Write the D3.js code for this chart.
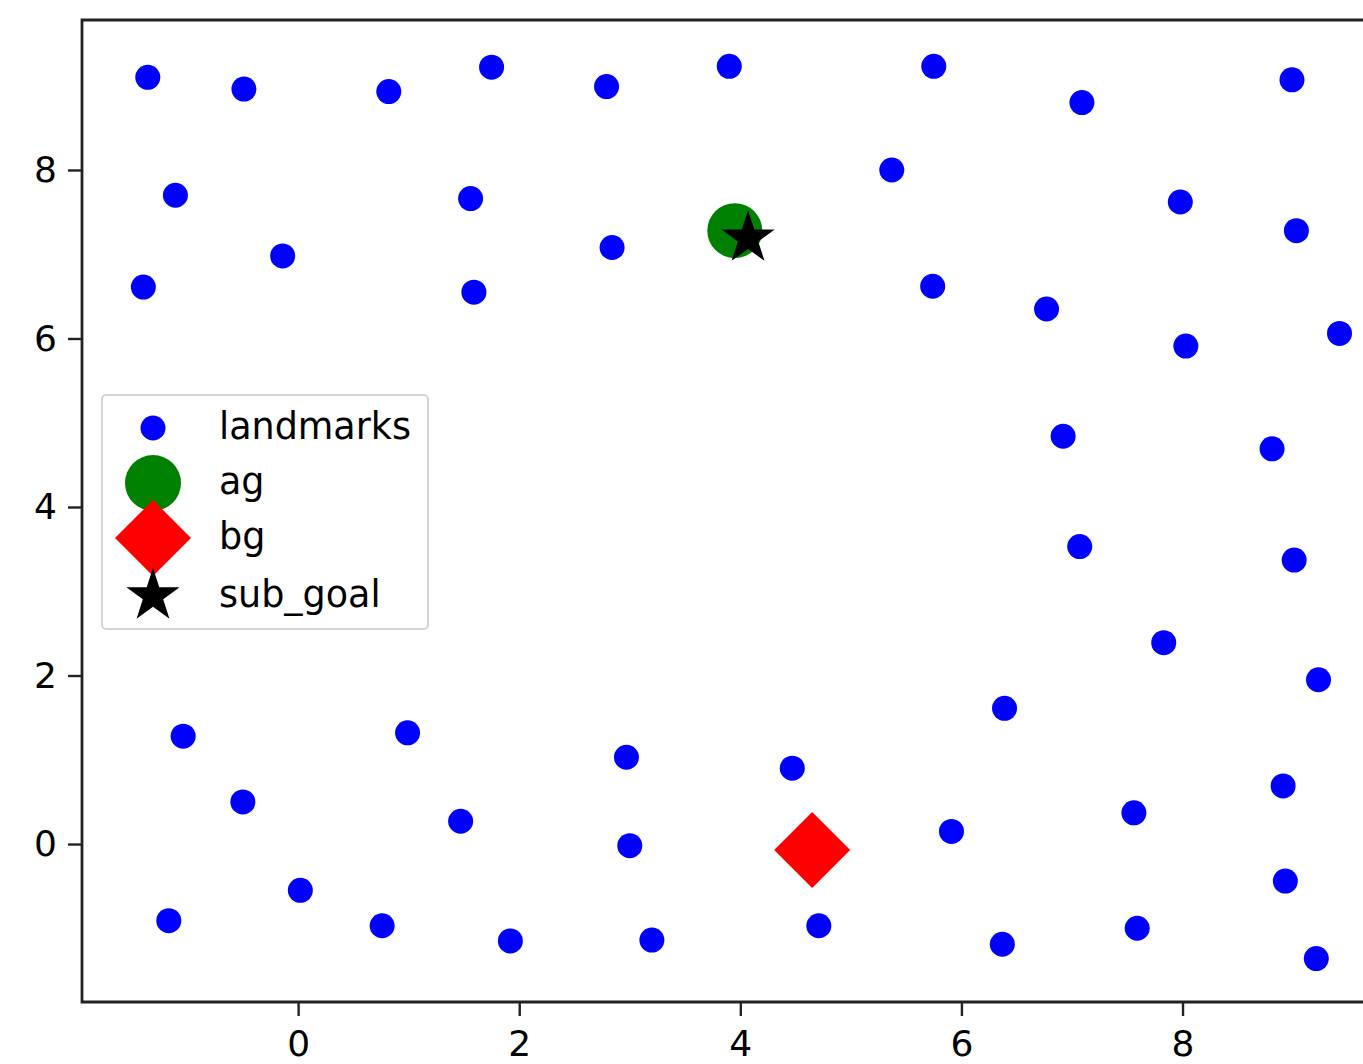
<!DOCTYPE html>
<html>
<head>
<meta charset="utf-8">
<script src="https://cdn.jsdelivr.net/npm/d3@7"></script>
<style>
  html, body { margin: 0; padding: 0; background: #fff; }
  svg { display: block; }
  text { font-family: "DejaVu Sans", sans-serif; fill: #000; }
</style>
</head>
<body>
<svg id="chart" width="1363" height="1064"></svg>
<script>
// Landmark positions (x, y)
const landmarkX = [
  -1.36, -0.49, 0.82, 1.75, 2.79, 3.90, 5.75, 7.09, 8.99,
  -1.11, 1.56, 5.37, 7.98, 9.03,
  -0.14, 2.84, -1.40, 1.59, 5.74, 6.77, 8.03, 9.42,
  6.92, 8.81, 7.07, 9.01, 7.83, 9.23, 6.39,
  -1.04, 0.99, 2.97, 4.47, -0.50, 1.47, 5.91, 7.56, 8.91,
  3.00, 0.02, 8.93, -1.17, 0.76, 1.92, 3.20, 4.71, 6.37, 7.59, 9.21
];
const landmarkY = [
  9.10, 8.96, 8.93, 9.22, 8.99, 9.23, 9.23, 8.80, 9.07,
  7.70, 7.66, 8.00, 7.62, 7.28,
  6.98, 7.08, 6.61, 6.55, 6.62, 6.35, 5.91, 6.06,
  4.84, 4.69, 3.53, 3.37, 2.39, 1.95, 1.61,
  1.28, 1.32, 1.03, 0.90, 0.50, 0.27, 0.15, 0.37, 0.69,
  -0.02, -0.55, -0.44, -0.91, -0.97, -1.15, -1.14, -0.97, -1.19, -1.00, -1.36
];
// Agent goal, other goal and intermediate sub-goal
const agGoal = [3.95, 7.28];
const bgGoal = [4.65, -0.07];
const subGoal = [4.07, 7.19];

const xTicks = [0, 2, 4, 6, 8];
const yTicks = [0, 2, 4, 6, 8];
const legendLabels = ["landmarks", "ag", "bg", "sub_goal"];

const svg = d3.select("#chart");
const plotLeft = 82, plotTop = 20, plotBottom = 1002;

const x = d3.scaleLinear().domain([-1.955, 9.95]).range([plotLeft, plotLeft + 11.905 * 110.55]);
const y = d3.scaleLinear().domain([-1.875, 9.78]).range([plotBottom, plotTop]);

const plotW = 1363 - plotLeft + 40;

// clip region for the plotting area
svg.append("clipPath").attr("id", "plotclip")
  .append("rect").attr("x", plotLeft).attr("y", plotTop).attr("width", plotW).attr("height", plotBottom - plotTop);

const plot = svg.append("g").attr("clip-path", "url(#plotclip)");

// star path centred at 0,0 with outer radius R (pentagram proportions)
function starPath(R) {
  const r = R * 0.381966;
  const pts = [];
  for (let i = 0; i < 10; i++) {
    const rad = i % 2 === 0 ? R : r;
    const a = -Math.PI / 2 + i * Math.PI / 5;
    pts.push([rad * Math.cos(a), rad * Math.sin(a)]);
  }
  return "M" + pts.map(p => p[0].toFixed(2) + "," + p[1].toFixed(2)).join("L") + "Z";
}
function diamondPath(h) {
  return `M0,${-h}L${h},0L0,${h}L${-h},0Z`;
}

const DOT_R = 12.5, AG_R = 27.5, BG_H = 38, STAR_R = 28;

plot.selectAll("circle.landmark")
  .data(d3.range(landmarkX.length))
  .join("circle")
  .attr("class", "landmark")
  .attr("cx", i => x(landmarkX[i]))
  .attr("cy", i => y(landmarkY[i]))
  .attr("r", DOT_R)
  .attr("fill", "#0000ff");

plot.append("circle")
  .attr("cx", x(agGoal[0])).attr("cy", y(agGoal[1]))
  .attr("r", AG_R).attr("fill", "#008000");

plot.append("path")
  .attr("d", diamondPath(BG_H))
  .attr("transform", `translate(${x(bgGoal[0])},${y(bgGoal[1])})`)
  .attr("fill", "#ff0000");

plot.append("path")
  .attr("d", starPath(STAR_R))
  .attr("transform", `translate(${x(subGoal[0])},${y(subGoal[1])})`)
  .attr("fill", "#000");

// axes
const xAxis = d3.axisBottom(x).tickValues(xTicks).tickSize(14).tickPadding(14).tickFormat(d3.format("d"));
const yAxis = d3.axisLeft(y).tickValues(yTicks).tickSize(14).tickPadding(11).tickFormat(d3.format("d"));

const gx = svg.append("g").attr("transform", `translate(0,${plotBottom})`).call(xAxis);
const gy = svg.append("g").attr("transform", `translate(${plotLeft},0)`).call(yAxis);
[gx, gy].forEach(g => {
  g.select(".domain").remove();
  g.selectAll(".tick line").attr("stroke", "#222").attr("stroke-width", 2.4);
  g.selectAll(".tick text").style("font-size", "36px").style("font-family", "DejaVu Sans, sans-serif").attr("fill", "#000");
});

// spines (left, top, bottom; the right one lies beyond the canvas)
svg.append("path")
  .attr("d", `M${plotLeft + plotW},${plotTop}H${plotLeft}V${plotBottom}H${plotLeft + plotW}`)
  .attr("fill", "none").attr("stroke", "#222").attr("stroke-width", 2.8);

// legend
const lg = svg.append("g");
lg.append("rect")
  .attr("x", 102).attr("y", 395).attr("width", 326).attr("height", 234)
  .attr("rx", 4).attr("fill", "#fff").attr("fill-opacity", 0.8)
  .attr("stroke", "#d4d4d4").attr("stroke-width", 2);

const rowY = [428, 483, 538, 596];
const markerX = 153, textX = 219;
lg.append("circle").attr("cx", markerX).attr("cy", rowY[0]).attr("r", DOT_R).attr("fill", "#0000ff");
lg.append("circle").attr("cx", markerX).attr("cy", rowY[1]).attr("r", AG_R + 0.5).attr("fill", "#008000");
lg.append("path").attr("d", diamondPath(BG_H)).attr("transform", `translate(${markerX},${rowY[2]})`).attr("fill", "#ff0000");
lg.append("path").attr("d", starPath(STAR_R)).attr("transform", `translate(${markerX},${rowY[3]})`).attr("fill", "#000");

lg.selectAll("text.lab")
  .data(legendLabels)
  .join("text")
  .attr("class", "lab")
  .attr("x", textX)
  .attr("y", (d, i) => rowY[i] - 2)
  .attr("dy", "0.35em")
  .style("font-size", "36.5px")
  .text(d => d);
</script>
</body>
</html>
